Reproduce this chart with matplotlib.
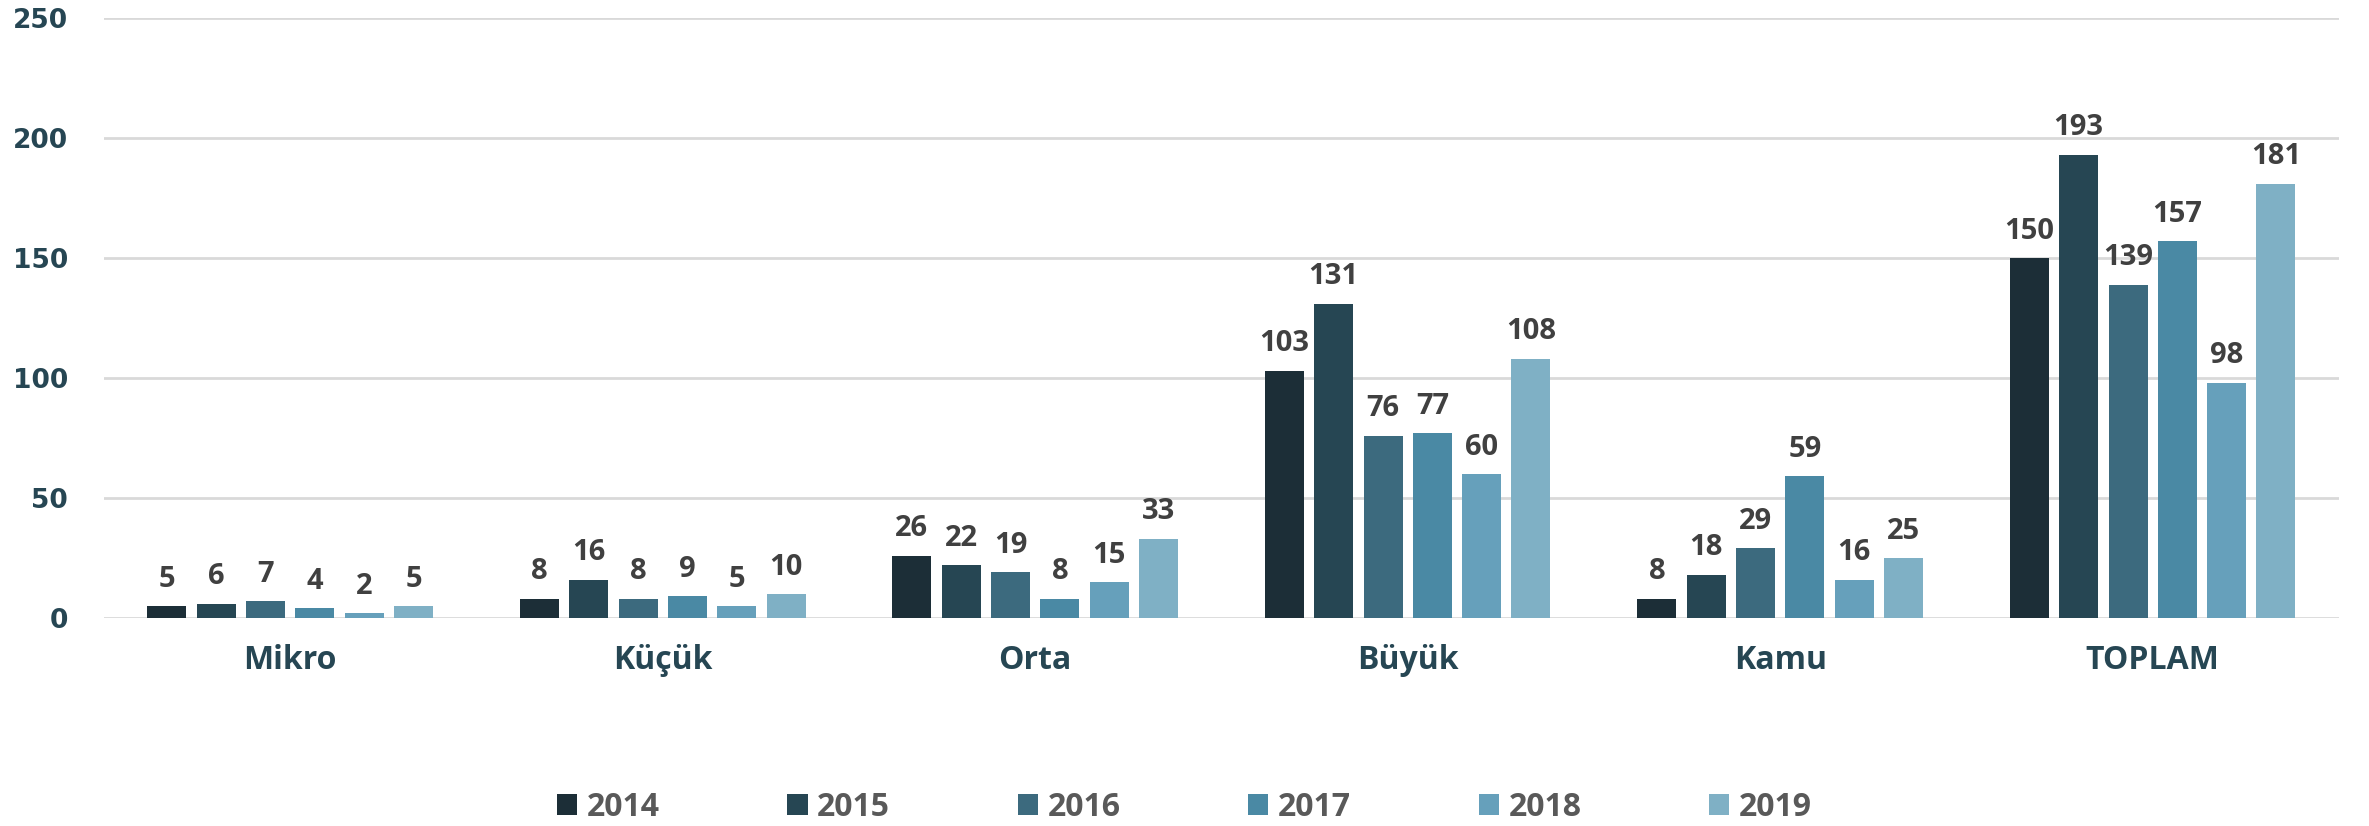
import matplotlib.pyplot as plt
import numpy as np

categories = ['Mikro', 'Küçük', 'Orta', 'Büyük', 'Kamu', 'TOPLAM']
years = ['2014', '2015', '2016', '2017', '2018', '2019']
values = {
    '2014': [5, 8, 26, 103, 8, 150],
    '2015': [6, 16, 22, 131, 18, 193],
    '2016': [7, 8, 19, 76, 29, 139],
    '2017': [4, 9, 8, 77, 59, 157],
    '2018': [2, 5, 15, 60, 16, 98],
    '2019': [5, 10, 33, 108, 25, 181],
}
colors = ['#1C2E37', '#264653', '#3C6A7E', '#4A89A4', '#66A0BB', '#7FB0C5']

fig = plt.figure(figsize=(23.69, 8.26), dpi=100)
ax = fig.add_axes([0.0439, 0.2518, 0.9434, 0.7262])

x = np.arange(len(categories))
step = 0.1324
width = 0.1047
for i, yr in enumerate(years):
    pos = x + (i - 2.5) * step
    bars = ax.bar(pos, values[yr], width, color=colors[i], label=yr, zorder=3)
    for b, v in zip(bars, values[yr]):
        ax.annotate(str(v), (b.get_x() + b.get_width() / 2, v),
                    xytext=(0, 14), textcoords='offset points',
                    ha='center', va='baseline', fontsize=21,
                    fontweight='bold', family='Open Sans', color='#404040')

ax.set_xlim(-0.5, len(categories) - 0.5)
ax.set_ylim(0, 250)
ax.set_yticks(range(0, 251, 50))
ax.yaxis.grid(True, color='#D9D9D9', linewidth=2, zorder=0)
for s in ax.spines.values():
    s.set_visible(False)
ax.tick_params(axis='both', length=0)
ax.tick_params(axis='y', pad=26, labelsize=19, labelcolor='#264653')
for t in ax.get_yticklabels():
    t.set_fontweight('bold')
    t.set_family('DejaVu Sans')

ax.set_xticks(x)
ax.set_xticklabels(categories, fontsize=23, fontweight='bold',
                   family='Open Sans', color='#264653')
ax.tick_params(axis='x', pad=19)

leg = fig.legend(loc='center', bbox_to_anchor=(0.5, 1 - 807 / 826), ncol=6,
                 frameon=False, handlelength=0.63, handleheight=0.63,
                 handletextpad=0.3, columnspacing=4.0,
                 prop={'family': 'Open Sans', 'weight': 'bold', 'size': 23})
for t in leg.get_texts():
    t.set_color('#595959')

fig.savefig('out.png', dpi=100)
